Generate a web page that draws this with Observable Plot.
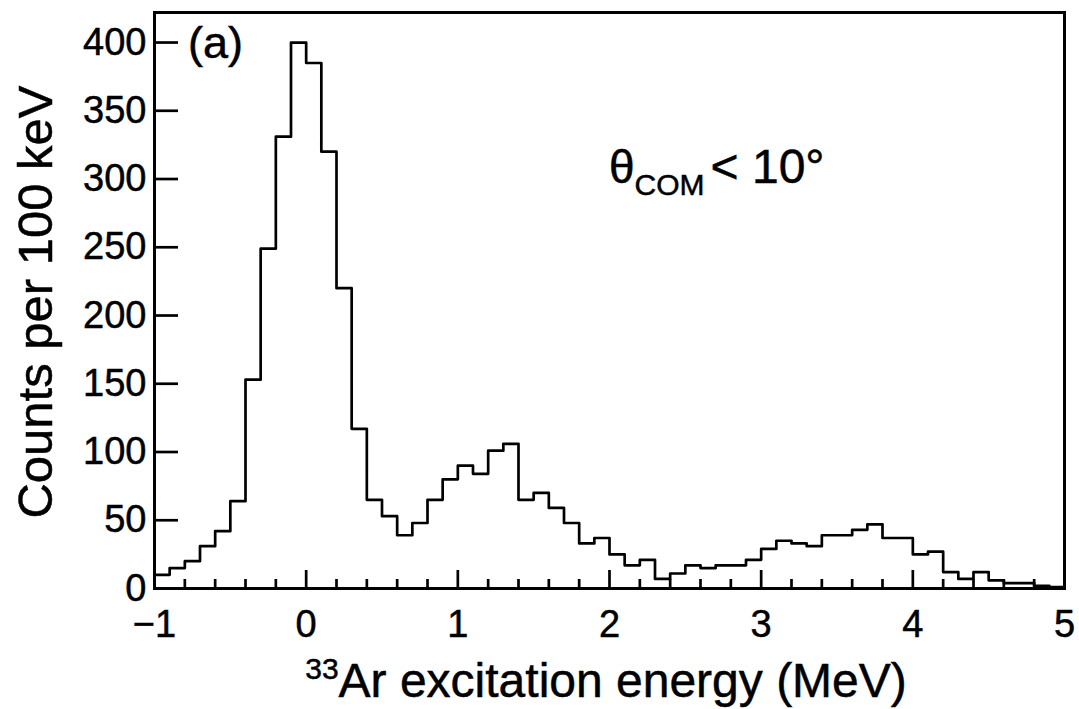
<!DOCTYPE html>
<html>
<head>
<meta charset="utf-8">
<script src="https://cdn.jsdelivr.net/npm/d3@7"></script>
<script src="https://cdn.jsdelivr.net/npm/@observablehq/plot@0.6"></script>
<style>
  html, body { margin: 0; padding: 0; background: #fff; }
  #chart svg { display: block; }
  #chart svg text { stroke: #000; stroke-width: 0.5px; }
</style>
</head>
<body>
<div id="chart"></div>
<script>
// Lower edges of the 100 keV excitation-energy bins (MeV)
const binStart = [
  -1.0, -0.9, -0.8, -0.7, -0.6, -0.5, -0.4, -0.3, -0.2, -0.1,
   0.0,  0.1,  0.2,  0.3,  0.4,  0.5,  0.6,  0.7,  0.8,  0.9,
   1.0,  1.1,  1.2,  1.3,  1.4,  1.5,  1.6,  1.7,  1.8,  1.9,
   2.0,  2.1,  2.2,  2.3,  2.4,  2.5,  2.6,  2.7,  2.8,  2.9,
   3.0,  3.1,  3.2,  3.3,  3.4,  3.5,  3.6,  3.7,  3.8,  3.9,
   4.0,  4.1,  4.2,  4.3,  4.4,  4.5,  4.6,  4.7,  4.8,  4.9
];
const binWidth = 0.1;

// Counts per 100 keV bin, theta_COM < 10 deg
const counts = [
   10,  15,  20,  31,  42,  64, 153, 249, 331, 400,
  385, 320, 220, 117,  65,  53,  39,  48,  65,  80,
   90,  84, 101, 106,  65,  70,  59,  48,  33,  37,
   25,  17,  21,   7,  11,  17,  15,  17,  17,  21,
   29,  35,  33,  31,  39,  39,  43,  47,  37,  37,
   25,  27,  12,   7,  12,   6,   4,   4,   2,   1
];

// Axis ticks
const xMajorTicks = [-1, 0, 1, 2, 3, 4, 5];
const xMinorTicks = [-0.8, -0.6, -0.4, -0.2, 0.2, 0.4, 0.6, 0.8, 1.2, 1.4, 1.6, 1.8,
                     2.2, 2.4, 2.6, 2.8, 3.2, 3.4, 3.6, 3.8, 4.2, 4.4, 4.6, 4.8];
const yTicks = [0, 50, 100, 150, 200, 250, 300, 350, 400];

// Step outline: one vertex per bin edge, the last one closing the final bin
const outline = binStart.map((x, i) => ({x, count: counts[i]}));
outline.push({x: binStart[binStart.length - 1] + binWidth, count: counts[counts.length - 1]});

const font = "'Liberation Sans', Arial, Helvetica, sans-serif";
const lw = 2.7;
const intLabel = d => (d < 0 ? "\u2212" + (-d) : String(d));

// layout
const W = 1079, H = 709;
const M = {top: 12, right: 15, bottom: 121, left: 154};
const frameW = W - M.left - M.right;
const frameH = H - M.top - M.bottom;
const xDomain = [-1, 5], yDomain = [0, 422];
// tick lengths in pixels expressed in data units
const pxY = (yDomain[1] - yDomain[0]) / frameH;
const pxX = (xDomain[1] - xDomain[0]) / frameW;

// inward ticks drawn as short rules from the axes
const xTick = (ticks, len) => Plot.ruleX(ticks, {x: d => d, y1: yDomain[0], y2: yDomain[0] + len * pxY, stroke: "#000", strokeWidth: lw});
const yTick = (ticks, len) => Plot.ruleY(ticks, {y: d => d, x1: xDomain[0], x2: xDomain[0] + len * pxX, stroke: "#000", strokeWidth: lw});

const chart = Plot.plot({
  width: W,
  height: H,
  marginLeft: M.left,
  marginRight: M.right,
  marginTop: M.top,
  marginBottom: M.bottom,
  style: {fontFamily: font, background: "#fff", color: "#000", overflow: "visible"},
  x: {domain: xDomain},
  y: {domain: yDomain},
  marks: [
    Plot.line(outline, {x: "x", y: "count", curve: "step-after", stroke: "#000", strokeWidth: lw}),
    xTick(xMinorTicks, 9),
    xTick(xMajorTicks, 18),
    yTick(yTicks, 24),
    // tick labels
    Plot.axisX(xMajorTicks, {tickSize: 0, tickPadding: 22, fontSize: 38, tickFormat: intLabel, label: null}),
    Plot.axisY(yTicks, {tickSize: 0, tickPadding: 8, fontSize: 38, tickFormat: intLabel, label: null}),
    Plot.frame({stroke: "#000", strokeWidth: 3})
  ]
});

document.getElementById("chart").appendChild(chart);

// Titles and annotations with sub/superscripts
const svg = d3.select(chart);
const xs = chart.scale("x"), ys = chart.scale("y");

svg.append("text")
  .attr("transform", "translate(52,302) rotate(-90)")
  .attr("text-anchor", "middle")
  .attr("font-family", font)
  .attr("font-size", 49)
  .attr("fill", "#000")
  .text("Counts per 100 keV");

const xt = svg.append("text")
  .attr("x", 606).attr("y", 697)
  .attr("text-anchor", "middle")
  .attr("font-family", font)
  .attr("fill", "#000");
xt.append("tspan").attr("font-size", 30).attr("dy", -18).text("33");
xt.append("tspan").attr("font-size", 48).attr("dy", 18).text("Ar excitation energy (MeV)");

svg.append("text")
  .attr("x", 188).attr("y", 58)
  .attr("text-anchor", "start")
  .attr("font-family", font)
  .attr("font-size", 45)
  .attr("fill", "#000")
  .text("(a)");

const th = svg.append("text")
  .attr("x", xs.apply(2.0)).attr("y", ys.apply(297))
  .attr("text-anchor", "start")
  .attr("font-family", font)
  .attr("fill", "#000");
th.append("tspan").attr("font-size", 46).text("θ");
th.append("tspan").attr("font-size", 30).attr("dy", 12).text("COM");
th.append("tspan").attr("font-size", 48).attr("dy", -12).attr("dx", 6).text("< 10°");
</script>
</body>
</html>
